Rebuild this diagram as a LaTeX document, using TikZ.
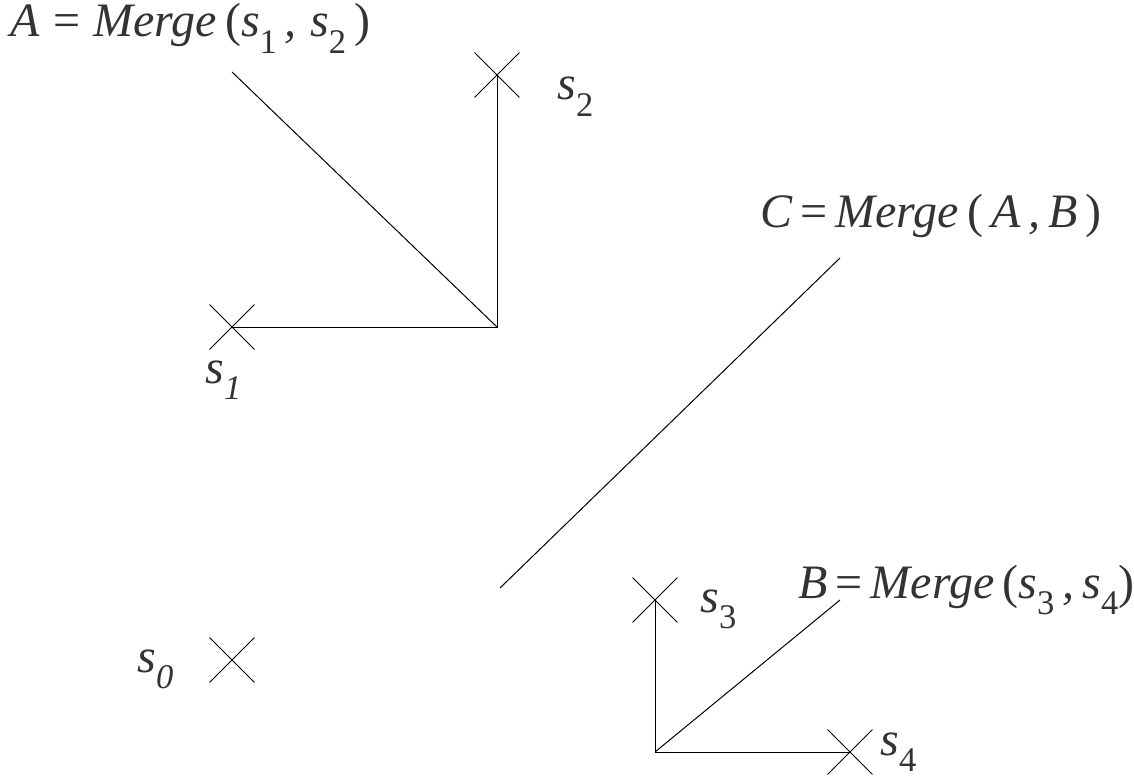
\documentclass[tikz,border=0pt]{standalone}
\usepackage{fontspec}
\setmainfont{Liberation Serif}
\usepackage{tikz}
\usetikzlibrary{positioning,shapes.misc}
\definecolor{inkgray}{HTML}{333333}
\newcommand{\lo}[1]{\raisebox{-0.34em}{\scalebox{0.72}{#1}}}

\begin{document}
\begin{tikzpicture}[x=1pt, y=-1pt, line width=1pt,
  every node/.style={font=\fontsize{48}{56}\selectfont\itshape, text=inkgray, inner sep=0pt},
  pt/.style={draw, cross out, minimum size=44pt, line width=0.9pt}]
\useasboundingbox (0,0) rectangle (1134,783);
% states
\node[pt] (s0) at (232,660) {};
\node[pt] (s1) at (232,327) {};
\node[pt] (s2) at (497,75) {};
\node[pt] (s3) at (655,600) {};
\node[pt] (s4) at (850,752) {};
\node[anchor=base west] (l0) at (137,672) {s\lo{0}};
\node[anchor=base west] (l1) at (205,383) {s\lo{1}};
\node[anchor=base west] (l2) at (557,100) {s\lo{\upshape 2}};
\node[anchor=base west] (l3) at (700,612) {s\lo{\upshape 3}};
\node[anchor=base west] (l4) at (880,755) {s\lo{\upshape 4}};
% merges
\node[anchor=base west] (ma) at (10,37) {A\;{\upshape =}\;Merge\,{\upshape (}s\lo{\upshape 1}\,,\;s\lo{\upshape 2}\,{\upshape )}};
\node[anchor=base west] (mc) at (760,228) {C\,{\upshape =}\,Merge\,{\upshape (}\,A\,,\,B\,{\upshape )}};
\node[anchor=base west] (mb) at (798,598) {B\,{\upshape =}\,Merge\,{\upshape (}s\lo{\upshape 3}\,,\,s\lo{\upshape 4}{\upshape )}};
\coordinate (a) at (497,327);
\coordinate (aend) at (232,72);
\coordinate (b) at (655,752);
\coordinate (bend) at (840,600);
\coordinate (ctop) at (840,258);
\coordinate (cend) at (500,588);
\draw (s2.center) -- (a) -- (s1.center);
\draw (a) -- (aend);
\draw (s3.center) -- (b) -- (s4.center);
\draw (b) -- (bend);
\draw (ctop) -- (cend);
\end{tikzpicture}
\end{document}
